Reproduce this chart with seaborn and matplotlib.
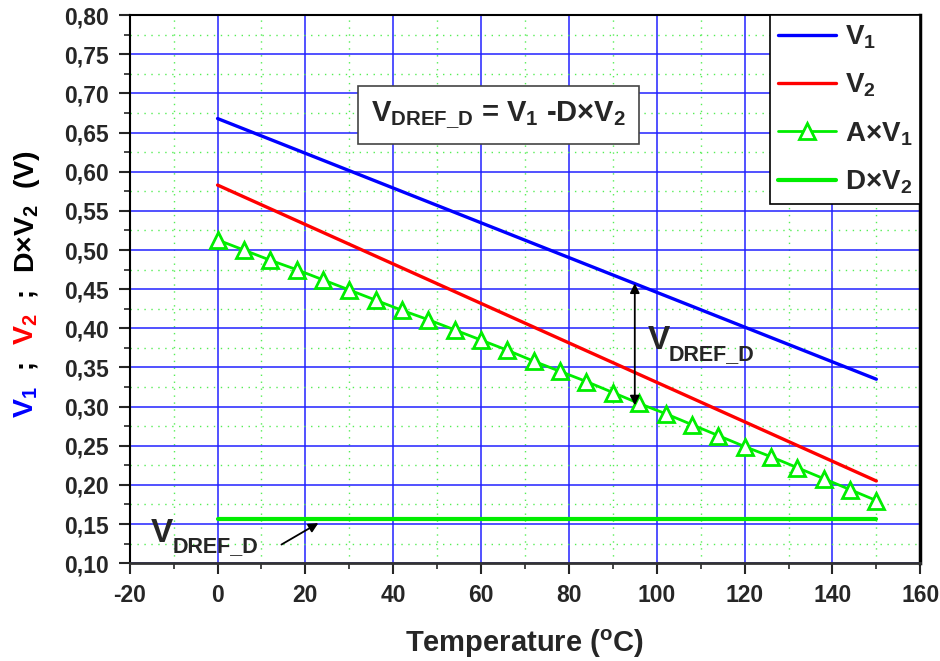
import numpy as np
import pandas as pd
import matplotlib
matplotlib.use("Agg")
import matplotlib.pyplot as plt
from matplotlib.ticker import MultipleLocator, FuncFormatter
import seaborn as sns

# ---- data -------------------------------------------------------------
temp_line = [0, 150]                 # straight-line traces (°C)
v1 = [0.668, 0.335]                  # V1 (V)
v2 = [0.583, 0.205]                  # V2 (V)
dv2 = [0.156, 0.156]                 # D x V2 (V)

temp_marked = [0, 6, 12, 18, 24, 30, 36, 42, 48, 54, 60, 66, 72, 78, 84,
               90, 96, 102, 108, 114, 120, 126, 132, 138, 144, 150]
av1 = [0.513, 0.500, 0.487, 0.475, 0.462, 0.449, 0.436, 0.423, 0.411,
       0.398, 0.385, 0.372, 0.358, 0.345, 0.332, 0.318, 0.304, 0.291,
       0.277, 0.263, 0.249, 0.236, 0.222, 0.208, 0.194, 0.180]

series_labels = ["V$_1$", "V$_2$", "A×V$_1$", "D×V$_2$"]

# ---- style ------------------------------------------------------------
sns.set_style("white")
plt.rcParams["font.family"] = ["Liberation Sans", "DejaVu Sans"]
plt.rcParams["font.weight"] = "bold"
plt.rcParams["mathtext.fontset"] = "custom"
plt.rcParams["mathtext.rm"] = "Liberation Sans:bold"
plt.rcParams["mathtext.it"] = "Liberation Sans:bold"
plt.rcParams["mathtext.bf"] = "Liberation Sans:bold"

BLUE = "#0000ff"
RED = "#ff0000"
GREEN = "#00ee00"

fig = plt.figure(figsize=(9.4, 6.61), dpi=100)
ax = fig.add_axes([0.138, 0.148, 0.841, 0.829])

sns.lineplot(x=temp_line, y=v1, ax=ax, color=BLUE, lw=2.4, label=series_labels[0])
sns.lineplot(x=temp_line, y=v2, ax=ax, color=RED, lw=2.4, label=series_labels[1])
sns.lineplot(x=temp_marked, y=av1, ax=ax, color=GREEN, lw=2.0, marker="^",
             markersize=11, markerfacecolor="white", markeredgecolor=GREEN,
             markeredgewidth=2, label=series_labels[2])
sns.lineplot(x=temp_line, y=dv2, ax=ax, color=GREEN, lw=3.0, label=series_labels[3])

# ---- axes -------------------------------------------------------------
ax.set_xlim(-20, 160)
ax.set_ylim(0.10, 0.80)
ax.xaxis.set_major_locator(MultipleLocator(20))
ax.xaxis.set_minor_locator(MultipleLocator(10))
ax.yaxis.set_major_locator(MultipleLocator(0.05))
ax.yaxis.set_minor_locator(MultipleLocator(0.025))
ax.yaxis.set_major_formatter(FuncFormatter(lambda v, p: f"{v:.2f}".replace(".", ",")))
ax.xaxis.set_major_formatter(FuncFormatter(lambda v, p: f"{v:.0f}"))

ax.set_axisbelow(True)
ax.grid(which="major", color="#2222ff", lw=1.1, ls="-")
ax.grid(which="minor", color="#55ee55", lw=1.0, ls=(0, (1, 4)))

ax.tick_params(which="major", direction="out", length=8, width=1.5,
               labelsize=16.5, bottom=True, left=True, pad=7)
ax.tick_params(which="minor", direction="out", length=4.5, width=1.2,
               bottom=True, left=True)
for lab in ax.get_xticklabels() + ax.get_yticklabels():
    lab.set_fontweight("bold")

for side in ("left", "top"):
    ax.spines[side].set_color("black")
    ax.spines[side].set_linewidth(1.5)
ax.spines["bottom"].set_color("#333333")
ax.spines["bottom"].set_linewidth(2.0)
ax.spines["right"].set_color("black")
ax.spines["right"].set_linewidth(2.5)

ax.set_xlabel("Temperature ($^{\\mathrm{o}}$C)", fontsize=21, fontweight="bold",
              labelpad=15)
ax.set_ylabel("")

# ---- legend -----------------------------------------------------------
leg = ax.legend(loc="upper right", borderaxespad=0, fontsize=20,
                frameon=True, fancybox=False, edgecolor="black",
                handlelength=2.1, handletextpad=0.3, labelspacing=0.75,
                borderpad=0.3)
leg.get_frame().set_linewidth(1.2)
leg.get_frame().set_alpha(1)

# ---- annotations ------------------------------------------------------
ax.text(64, 0.673, "V$_{\\mathrm{DREF\\_D}}$ = V$_1$ -D×V$_2$", fontsize=21,
        fontweight="bold", ha="center", va="center",
        bbox=dict(boxstyle="square,pad=0.45", fc="white", ec="#444444", lw=1.2))

ax.annotate("", xy=(95, 0.461), xytext=(95, 0.298),
            arrowprops=dict(arrowstyle="<|-|>", color="black", lw=1.3,
                            mutation_scale=14))
ax.text(98, 0.373, "V", fontsize=24, fontweight="bold", ha="left", va="baseline")
ax.text(102.8, 0.360, "DREF_D", fontsize=15.5, fontweight="bold", ha="left",
        va="baseline")

ax.text(-15.2, 0.127, "V", fontsize=24, fontweight="bold", ha="left", va="baseline")
ax.text(-10.3, 0.114, "DREF_D", fontsize=15.5, fontweight="bold", ha="left",
        va="baseline")
ax.annotate("", xy=(23.5, 0.153), xytext=(14.0, 0.122),
            arrowprops=dict(arrowstyle="-|>", color="black", lw=1.3,
                            mutation_scale=14))

# ---- multicoloured y label ---------------------------------------------
pieces = [("V$_1$", BLUE), ("  ;  ", "black"), ("V$_2$", RED),
          ("  ;  ", "black"), ("D×V$_2$  (V)", "black")]
fig.canvas.draw()
renderer = fig.canvas.get_renderer()
x0 = 0.036
y0 = 1 - 418 / 661
for s, c in pieces:
    t = fig.text(x0, y0, s, rotation=90, rotation_mode="anchor", ha="left",
                 va="baseline", color=c, fontsize=20.5, fontweight="bold")
    bb = t.get_window_extent(renderer)
    y0 += bb.height / fig.bbox.height

fig.savefig("out.png", dpi=100)
